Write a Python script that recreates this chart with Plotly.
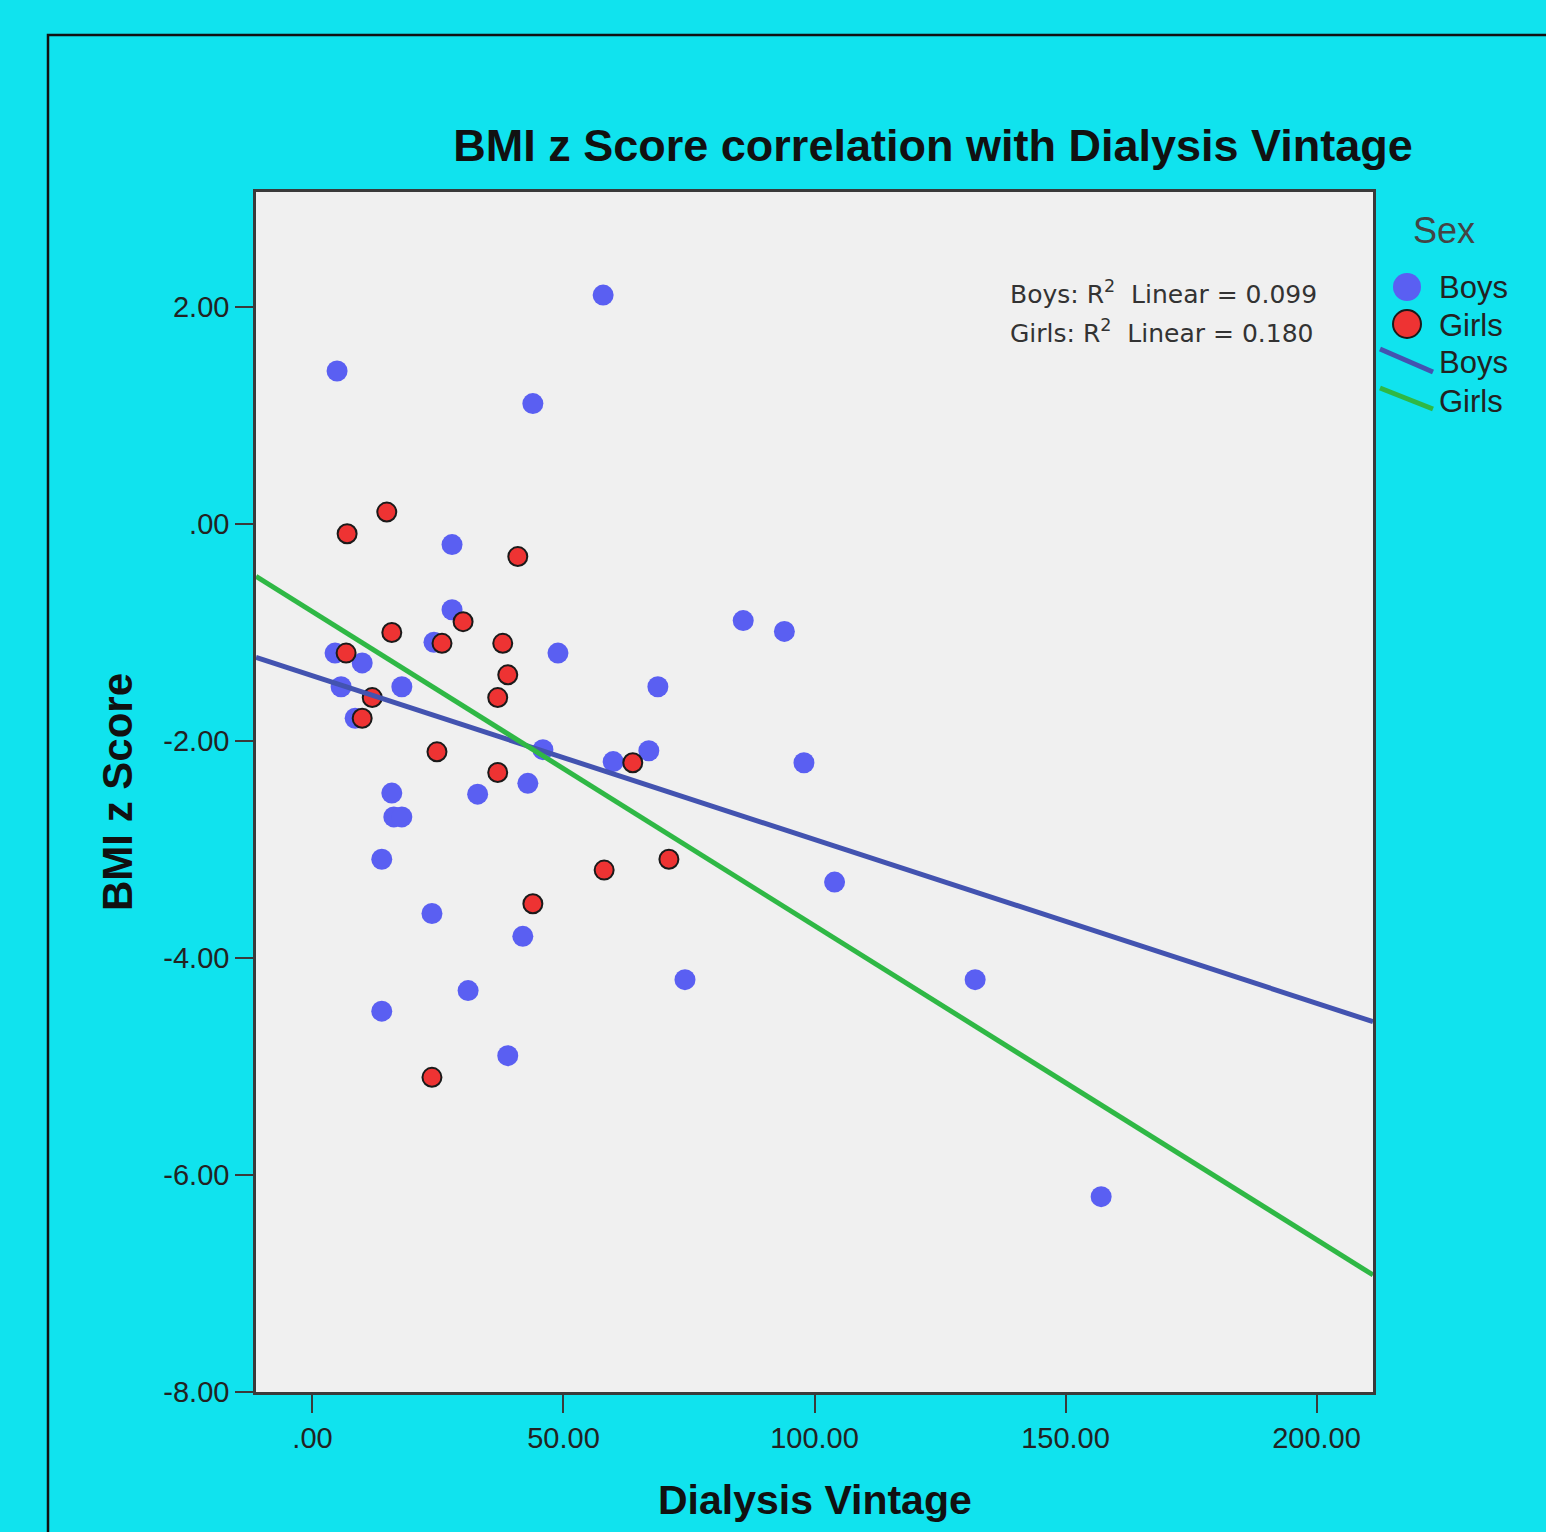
import plotly.graph_objects as go

# ---------------- data ----------------
boys_vintage = [57.9, 4.9, 43.9, 27.8, 27.8, 24.2, 85.8, 94.0, 48.9, 4.5, 9.9,
                5.7, 17.8, 68.8, 8.5, 45.9, 59.9, 67.0, 97.9, 15.8, 32.9, 42.9,
                16.2, 17.8, 13.8, 104.0, 23.8, 41.9, 74.2, 132.0, 31.0, 13.8,
                38.9, 157.1]
boys_bmiz = [2.11, 1.41, 1.11, -0.19, -0.79, -1.09, -0.89, -0.99, -1.19, -1.19,
             -1.28, -1.50, -1.50, -1.50, -1.79, -2.08, -2.19, -2.09, -2.20,
             -2.48, -2.49, -2.39, -2.70, -2.70, -3.09, -3.30, -3.59, -3.80,
             -4.20, -4.20, -4.30, -4.49, -4.90, -6.20]

girls_vintage = [14.8, 6.9, 40.9, 30.0, 15.8, 25.8, 37.9, 6.7, 38.9, 11.9, 36.9,
                 9.9, 24.8, 63.8, 36.9, 71.0, 58.1, 43.9, 23.8]
girls_bmiz = [0.11, -0.09, -0.30, -0.90, -1.00, -1.10, -1.10, -1.19, -1.39,
              -1.60, -1.60, -1.79, -2.10, -2.20, -2.29, -3.09, -3.19, -3.50,
              -5.10]

# linear fits (intercept, slope)
boys_fit = (-1.399, -0.01509)
girls_fit = (-0.808, -0.02894)
r2_labels = ["Boys: R<sup>2</sup>  Linear = 0.099", "Girls: R<sup>2</sup>  Linear = 0.180"]

x_range = [-11.25, 211.25]
y_range = [-8.0, 3.06]
x_ticks = [0, 50, 100, 150, 200]
x_ticktext = [".00", "50.00", "100.00", "150.00", "200.00"]
y_ticks = [2, 0, -2, -4, -6, -8]
y_ticktext = ["2.00", ".00", "-2.00", "-4.00", "-6.00", "-8.00"]

# ---------------- styling ----------------
W, H = 1546, 1532
L, R, T, B = 256, 1373, 192, 1392   # plot area in pixels
BG = "#10E3EE"
BLUE_PT = "#5A5FF2"
RED_PT = "#EE3333"
BLUE_LN = "#4353B0"
GREEN_LN = "#2FB845"
FONT = "Liberation Sans, Arial, sans-serif"
FONT_W = "DejaVu Sans, Verdana, sans-serif"


def px(xp):
    return (xp - L) / (R - L)


def py(yp):
    return (B - yp) / (B - T)


fig = go.Figure()

fig.add_trace(go.Scatter(
    x=boys_vintage, y=boys_bmiz, mode="markers", name="Boys",
    marker=dict(color=BLUE_PT, size=21, line=dict(width=0)),
    showlegend=False))
fig.add_trace(go.Scatter(
    x=girls_vintage, y=girls_bmiz, mode="markers", name="Girls",
    marker=dict(color=RED_PT, size=19, line=dict(color="#1a1a1a", width=2)),
    showlegend=False))

for (b0, b1), col, nm in [(boys_fit, BLUE_LN, "Boys fit"), (girls_fit, GREEN_LN, "Girls fit")]:
    fig.add_trace(go.Scatter(
        x=x_range, y=[b0 + b1 * x_range[0], b0 + b1 * x_range[1]],
        mode="lines", name=nm, line=dict(color=col, width=5),
        showlegend=False, cliponaxis=True))

shapes = []
# outer black frame
shapes.append(dict(type="rect", xref="paper", yref="paper",
                   x0=px(48), x1=px(1600), y0=py(1600), y1=py(35),
                   line=dict(color="#111", width=2.5), fillcolor="rgba(0,0,0,0)",
                   layer="below"))

annotations = []
# R^2 text
for i, t in enumerate(r2_labels):
    annotations.append(dict(
        x=px(1008), y=py(293 + 38 * i), xref="paper", yref="paper",
        text=t, showarrow=False, xanchor="left", yanchor="middle",
        font=dict(family=FONT_W, size=25, color="#333")))

# axis titles
annotations.append(dict(x=0.5, y=py(1500), xref="paper", yref="paper",
                        text="<b>Dialysis Vintage</b>", showarrow=False,
                        xanchor="center", yanchor="middle",
                        font=dict(family=FONT, size=41, color="#111")))
annotations.append(dict(x=px(117), y=0.5, xref="paper", yref="paper",
                        text="<b>BMI z Score</b>", showarrow=False, textangle=-90,
                        xanchor="center", yanchor="middle",
                        font=dict(family=FONT, size=42, color="#111")))

# manual legend
annotations.append(dict(x=px(1444), y=py(231), xref="paper", yref="paper",
                        text="Sex", showarrow=False, xanchor="center", yanchor="middle",
                        font=dict(family=FONT, size=36, color="#444")))
leg_items = [("Boys", 287), ("Girls", 325), ("Boys", 363), ("Girls", 401)]
for txt, yy in leg_items:
    annotations.append(dict(x=px(1437), y=py(yy), xref="paper", yref="paper",
                            text=txt, showarrow=False, xanchor="left", yanchor="middle",
                            font=dict(family=FONT, size=31, color="#222")))
rad = 14
shapes.append(dict(type="circle", xref="paper", yref="paper",
                   x0=px(1407 - rad), x1=px(1407 + rad), y0=py(287 + rad), y1=py(287 - rad),
                   fillcolor=BLUE_PT, line=dict(width=0)))
shapes.append(dict(type="circle", xref="paper", yref="paper",
                   x0=px(1407 - rad), x1=px(1407 + rad), y0=py(324 + rad), y1=py(324 - rad),
                   fillcolor=RED_PT, line=dict(color="#1a1a1a", width=2)))
shapes.append(dict(type="line", xref="paper", yref="paper",
                   x0=px(1380), x1=px(1433), y0=py(349), y1=py(372),
                   line=dict(color=BLUE_LN, width=5)))
shapes.append(dict(type="line", xref="paper", yref="paper",
                   x0=px(1380), x1=px(1433), y0=py(388), y1=py(409),
                   line=dict(color=GREEN_LN, width=5)))

axis_common = dict(showgrid=False, zeroline=False, showline=True, mirror=True,
                   linecolor="#3a3a3a", linewidth=2.5, ticks="outside", ticklen=18,
                   tickwidth=2, tickcolor="#3a3a3a",
                   tickfont=dict(family=FONT, size=29, color="#222"))

fig.update_layout(
    width=W, height=H,
    margin=dict(l=L, r=W - R, t=T, b=H - B, pad=0),
    paper_bgcolor=BG, plot_bgcolor="#F0F0F0",
    showlegend=False,
    title=dict(text="<b>BMI z Score correlation with Dialysis Vintage</b>",
               x=933 / W, xref="container", xanchor="center",
               y=1 - 145 / H, yref="container", yanchor="middle",
               font=dict(family=FONT, size=45, color="#111")),
    xaxis=dict(range=x_range, tickvals=x_ticks, ticktext=x_ticktext, **axis_common),
    yaxis=dict(range=y_range, tickvals=y_ticks, ticktext=y_ticktext, **axis_common),
    shapes=shapes, annotations=annotations,
)

fig.write_html("out.html")
